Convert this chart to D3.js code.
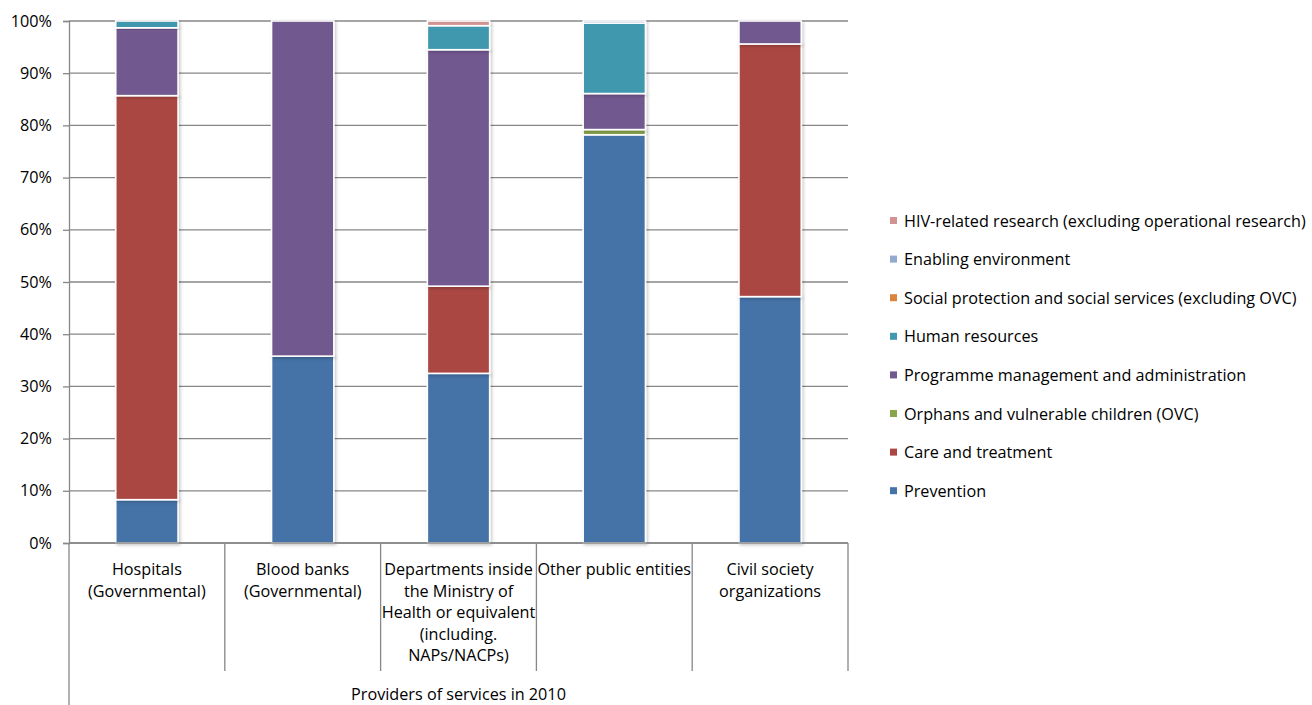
<!DOCTYPE html>
<html><head><meta charset="utf-8">
<script src="https://cdn.jsdelivr.net/npm/d3@7"></script>
<style>
html,body{margin:0;padding:0;background:#fff;}
svg{display:block;font-family:"Open Sans","Liberation Sans",Arial,sans-serif;}
</style></head>
<body>
<svg id="chart" width="1312" height="705"></svg>
<script>
const categories = [
  ["Hospitals","(Governmental)"],
  ["Blood banks","(Governmental)"],
  ["Departments inside","the Ministry of","Health or equivalent","(including.","NAPs/NACPs)"],
  ["Other public entities"],
  ["Civil society","organizations"]
];
const seriesNames = ["Prevention","Care and treatment","Orphans and vulnerable children (OVC)","Programme management and administration","Human resources","Social protection and social services (excluding OVC)","Enabling environment","HIV-related research (excluding operational research)"];
const prevention = [8.3, 35.8, 32.5, 78.2, 47.2];
const care       = [77.4, 0, 16.7, 0, 48.4];
const ovc        = [0, 0, 0, 1.0, 0];
const programme  = [13.0, 64.2, 45.3, 6.9, 4.4];
const humanRes   = [1.3, 0, 4.6, 13.5, 0];
const social     = [0, 0, 0, 0, 0];
const enabling   = [0, 0, 0, 0.4, 0];
const research   = [0, 0, 0.9, 0, 0];
const colors = ["#4572A7","#AA4643","#89A54E","#71588F","#4198AF","#DB843D","#93A9CF","#D19392"];
const yTicks = [0,10,20,30,40,50,60,70,80,90,100];
const groupLabel = "Providers of services in 2010";

const seriesVals = [prevention, care, ovc, programme, humanRes, social, enabling, research];
const rows = categories.map((c,i)=>{
  const r = {idx:i};
  seriesNames.forEach((s,j)=> r[s] = seriesVals[j][i]);
  return r;
});

const FS = 16.2;
const svg = d3.select("#chart");
const pL = 69, pR = 848, pT = 21, pB = 543;
const x = d3.scaleBand().domain(d3.range(categories.length)).range([pL,pR]).paddingInner(0.6).paddingOuter(0.3);
const y = d3.scaleLinear().domain([0,100]).range([pB,pT]);
const catW = (pR-pL)/categories.length;

const defs = svg.append("defs");
const f = defs.append("filter").attr("id","sh").attr("x","-20%").attr("y","-20%").attr("width","140%").attr("height","140%");
f.append("feDropShadow").attr("dx",1.5).attr("dy",1.5).attr("stdDeviation",1.5).attr("flood-color","#000").attr("flood-opacity",0.22);

// gridlines
svg.append("g").selectAll("line").data(yTicks).join("line")
  .attr("x1",pL).attr("x2",pR).attr("y1",d=>y(d)).attr("y2",d=>y(d))
  .attr("stroke","#878787").attr("stroke-width",1.3);

// y axis
const yAxis = svg.append("g").attr("transform",`translate(${pL},0)`)
  .call(d3.axisLeft(y).tickValues(yTicks).tickFormat(d=>d+"%").tickSize(6).tickPadding(11));
yAxis.select(".domain").attr("stroke","#878787").attr("stroke-width",1.3);
yAxis.selectAll(".tick line").attr("stroke","#878787").attr("stroke-width",1.3);
yAxis.selectAll("text").attr("font-size",FS).attr("fill","#000").attr("font-family","'Open Sans',Arial,sans-serif");

// bars
const stack = d3.stack().keys(seriesNames)(rows);
const barG = svg.append("g");
stack.forEach((layer,j)=>{
  barG.append("g").selectAll("rect").data(layer.filter(d=>d[1]-d[0]>0)).join("rect")
    .attr("x",d=>x(d.data.idx)).attr("width",x.bandwidth())
    .attr("y",d=>y(d[1])).attr("height",d=>y(d[0])-y(d[1]))
    .attr("fill",colors[j]).attr("stroke","#fff").attr("stroke-width",1.6)
    .attr("filter","url(#sh)");
});

// x axis baseline and separators
const sep = svg.append("g").attr("stroke","#878787").attr("stroke-width",1.3);
sep.append("line").attr("x1",pL).attr("x2",pR).attr("y1",pB).attr("y2",pB);
sep.append("line").attr("x1",pL).attr("x2",pL).attr("y1",pB).attr("y2",705);
d3.range(1,categories.length+1).forEach(i=>{
  sep.append("line").attr("x1",pL+i*catW).attr("x2",pL+i*catW).attr("y1",pB).attr("y2",671);
});

// category labels
const labG = svg.append("g").attr("font-size",FS).attr("fill","#000").attr("text-anchor","middle");
categories.forEach((lines,i)=>{
  const cx = x(i)+x.bandwidth()/2;
  const t = labG.append("text").attr("x",cx).attr("y",575);
  lines.forEach((l,k)=> t.append("tspan").attr("x",cx).attr("dy",k===0?0:21.5).text(l));
});
svg.append("text").attr("x",(pL+pR)/2).attr("y",700).attr("text-anchor","middle")
  .attr("font-size",FS).attr("fill","#000").text(groupLabel);

// legend (reverse order, top = last series)
const legOrder = d3.range(seriesNames.length).reverse();
const legG = svg.append("g");
legOrder.forEach((j,k)=>{
  const yy = 221 + k*38.6;
  legG.append("rect").attr("x",890).attr("y",yy-4).attr("width",7).attr("height",7).attr("fill",colors[j]);
  legG.append("text").attr("x",904).attr("y",yy+5.5).attr("font-size",FS).attr("fill","#000").text(seriesNames[j]);
});
</script>
</body></html>
